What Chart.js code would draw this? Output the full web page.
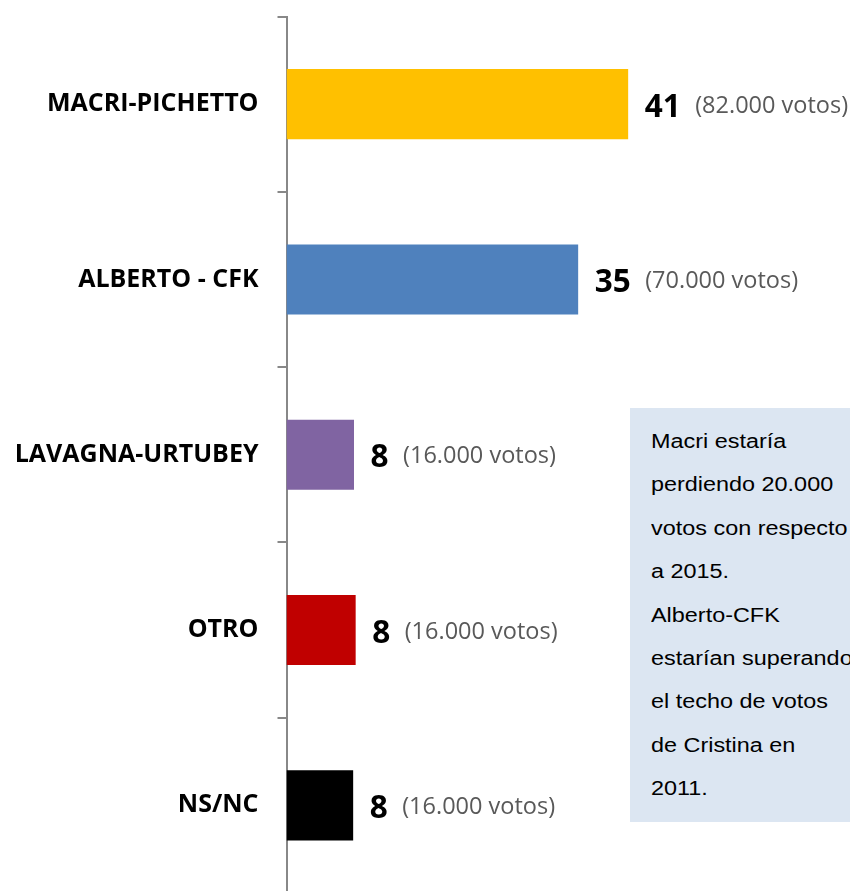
<!DOCTYPE html>
<html><head><meta charset="utf-8">
<script src="https://cdn.jsdelivr.net/npm/chart.js@4/dist/chart.umd.min.js"></script>
<style>
html,body{margin:0;padding:0;background:#fff;overflow:hidden;width:850px;height:891px;}
#wrap{position:absolute;left:0;top:0;width:850px;height:895px;}
#note{position:absolute;left:630px;top:408px;width:240px;height:414px;background:#dce6f2;}
#noteText{position:absolute;left:21px;top:12px;font-family:"Liberation Sans",Arial,sans-serif;font-size:20px;line-height:43.4px;color:#000;transform:scaleX(1.17);transform-origin:0 0;white-space:nowrap;}
</style></head>
<body>
<div id="wrap"><canvas id="c" width="850" height="895"></canvas></div>
<div id="note"><div id="noteText">Macri estaría<br>perdiendo 20.000<br>votos con respecto<br>a 2015.<br>Alberto-CFK<br>estarían superando<br>el techo de votos<br>de Cristina en<br>2011.</div></div>
<script>
const categories = ['MACRI-PICHETTO', 'ALBERTO - CFK', 'LAVAGNA-URTUBEY', 'OTRO', 'NS/NC'];
const percentages = [41, 35, 8.1, 8.3, 8.0];
const shownValues = ['41', '35', '8', '8', '8'];
const votes = ['82.000', '70.000', '16.000', '16.000', '16.000'];
const barColors = ['#FFC000', '#4F81BD', '#8064A2', '#C00000', '#000000'];

const labelPlugin = {
  id: 'barLabels',
  afterDatasetsDraw(chart) {
    const ctx = chart.ctx;
    const meta = chart.getDatasetMeta(0);
    ctx.save();
    meta.data.forEach((bar, i) => {
      let x = bar.x + 16.5;
      ctx.textAlign = 'left';
      ctx.textBaseline = 'alphabetic';
      ctx.fillStyle = '#000';
      ctx.font = 'bold 31.5px "Open Sans"';
      const t = shownValues[i];
      ctx.fillText(t, x, bar.y + 12.5);
      x += ctx.measureText(t).width + 14.5;
      ctx.fillStyle = '#595959';
      ctx.font = '23.5px "Open Sans"';
      ctx.fillText('(' + votes[i] + ' votos)', x, bar.y + 8.5);
    });
    ctx.restore();
  }
};

new Chart(document.getElementById('c'), {
  type: 'bar',
  data: {
    labels: categories,
    datasets: [{
      data: percentages,
      backgroundColor: barColors,
      borderWidth: 0,
      categoryPercentage: 1,
      barPercentage: 0.4
    }]
  },
  options: {
    indexAxis: 'y',
    responsive: false,
    animation: false,
    devicePixelRatio: 1,
    layout: { padding: { top: 16.5, bottom: 2, left: 0, right: 63.5 } },
    plugins: { legend: { display: false }, tooltip: { enabled: false } },
    scales: {
      x: { display: false, min: 0, max: 60 },
      y: {
        afterFit(scale) { scale.width = 286.5; scale.paddingTop = 0; scale.paddingBottom = 0; },
        border: { display: true, color: '#888888', width: 2 },
        grid: { offset: true, drawOnChartArea: false, drawTicks: true, tickLength: 9, color: '#888888', lineWidth: 2 },
        ticks: { padding: 19, color: '#000', font: { family: '"Open Sans"', weight: 'bold', size: 25, lineHeight: 1.05 } }
      }
    }
  },
  plugins: [labelPlugin]
});
</script>
</body></html>
